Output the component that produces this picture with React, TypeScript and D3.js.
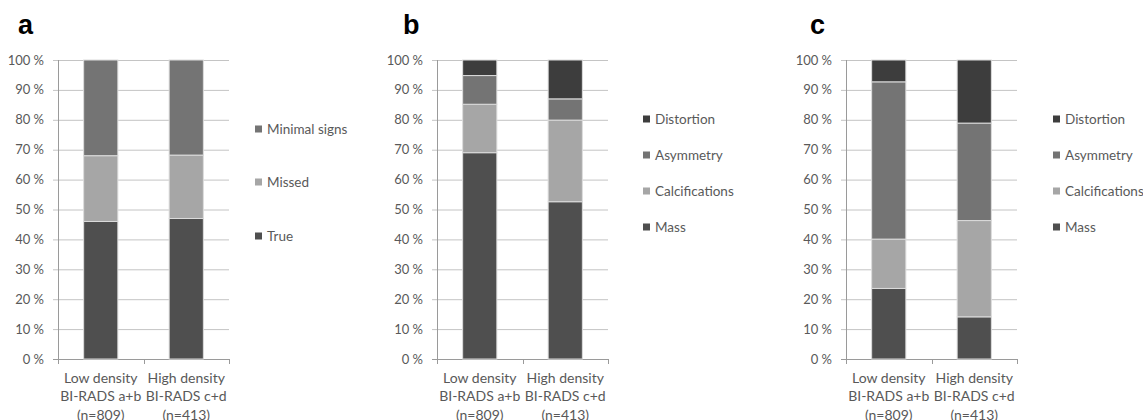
import React from "react";
import * as d3 from "d3";

const categories = ["low", "high"];
const categoryLines = [
  ["Low density", "BI-RADS a+b", "(n=809)"],
  ["High density", "BI-RADS c+d", "(n=413)"],
];
const yTicks = [0, 10, 20, 30, 40, 50, 60, 70, 80, 90, 100];

// panel a
const keysA = ["True", "Missed", "Minimal signs"];
const trueA = [46, 47];
const missedA = [22, 21.2];
const minimalA = [32, 31.8];

// panel b
const keysBC = ["Mass", "Calcifications", "Asymmetry", "Distortion"];
const massB = [69, 52.6];
const calcB = [16.2, 27.3];
const asymB = [9.6, 7.1];
const distB = [5.2, 13];

// panel c
const massC = [23.6, 14.1];
const calcC = [16.5, 32.2];
const asymC = [52.6, 32.6];
const distC = [7.3, 21.1];

const colors = {
  True: "#4f4f4f",
  Missed: "#a6a6a6",
  "Minimal signs": "#747474",
  Mass: "#4f4f4f",
  Calcifications: "#a6a6a6",
  Asymmetry: "#747474",
  Distortion: "#3d3d3d",
};

const FONT = "Lato, 'Open Sans', sans-serif";

const buildRows = (keys, series) =>
  categories.map((c, i) => {
    const row = { cat: c };
    keys.forEach((k, j) => (row[k] = series[j][i]));
    return row;
  });

const panels = [
  {
    title: "a", titleX: 18, left: 58, right: 229, legendX: 255, legendY: [129, 182, 236],
    keys: keysA, rows: buildRows(keysA, [trueA, missedA, minimalA]),
  },
  {
    title: "b", titleX: 403, left: 437, right: 608, legendX: 643, legendY: [119, 155, 191, 227],
    keys: keysBC, rows: buildRows(keysBC, [massB, calcB, asymB, distB]),
  },
  {
    title: "c", titleX: 810, left: 846, right: 1017, legendX: 1053, legendY: [119, 155, 191, 227],
    keys: keysBC, rows: buildRows(keysBC, [massC, calcC, asymC, distC]),
  },
];

const Panel = ({ p }) => {
  const y = d3.scaleLinear().domain([0, 100]).range([359, 60]);
  const x = d3.scaleBand().domain(categories).range([p.left, p.right]).paddingInner(0.6).paddingOuter(0.3);
  const stacked = d3.stack().keys(p.keys)(p.rows);
  const step = x.step();
  const legendKeys = [...p.keys].reverse();

  return (
    <g>
      <text x={p.titleX} y={34} fontFamily="Arial, 'Liberation Sans', sans-serif" fontWeight="bold" fontSize={27} fill="#000">
        {p.title}
      </text>
      {yTicks.map((t) => (
        <g key={t}>
          <line x1={p.left - 5} x2={p.right} y1={y(t) + 0.5} y2={y(t) + 0.5} stroke={t === 0 ? "#9a9a9a" : "#c4c4c4"} />
          <text x={p.left - 14} y={y(t)} dy="0.35em" textAnchor="end" fontFamily={FONT} fontSize={13} fill="#595959">
            {t} %
          </text>
        </g>
      ))}
      <line x1={p.left + 0.5} x2={p.left + 0.5} y1={y(100)} y2={y(0)} stroke="#9a9a9a" />
      {[0, 1, 2].map((i) => (
        <line key={i} x1={Math.round(p.left + i * step) + 0.5} x2={Math.round(p.left + i * step) + 0.5}
          y1={y(0)} y2={y(0) + 5} stroke="#9a9a9a" />
      ))}
      {stacked.map((layer) => (
        <g key={layer.key} fill={colors[layer.key]}>
          {layer.map((d, i) => (
            <rect key={i} x={x(d.data.cat)} width={x.bandwidth()} y={y(d[1])} height={y(d[0]) - y(d[1])}
              stroke="#dcdcdc" strokeWidth={1} />
          ))}
        </g>
      ))}
      {categories.map((c, i) => (
        <text key={c} textAnchor="middle" fontFamily={FONT} fontSize={14} fill="#595959">
          {categoryLines[i].map((l, j) => (
            <tspan key={j} x={x(c) + x.bandwidth() / 2} y={382.5 + j * 18.5}>{l}</tspan>
          ))}
        </text>
      ))}
      {legendKeys.map((k, i) => (
        <g key={k}>
          <rect x={p.legendX} y={p.legendY[i] - 3.5} width={7} height={7} fill={colors[k]} />
          <text x={p.legendX + 12} y={p.legendY[i]} dy="0.35em" fontFamily={FONT} fontSize={13.5} fill="#595959">
            {k}
          </text>
        </g>
      ))}
    </g>
  );
};

const App = () => (
  <svg width={1143} height={420} style={{ position: "absolute", left: 0, top: 0, background: "#fff" }}>
    {panels.map((p) => (
      <Panel key={p.title} p={p} />
    ))}
  </svg>
);

export default App;
